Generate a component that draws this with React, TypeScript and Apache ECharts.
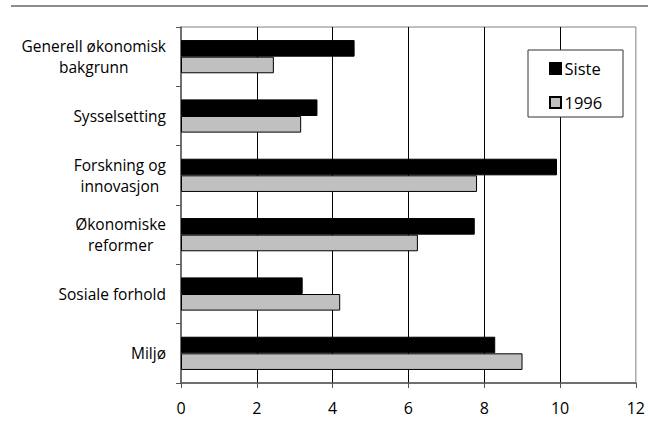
import React, { useEffect, useRef } from "react";
import * as echarts from "echarts";

const categories = [
  "Generell økonomisk\nbakgrunn",
  "Sysselsetting",
  "Forskning og\ninnovasjon",
  "Økonomiske\nreformer",
  "Sosiale forhold",
  "Miljø",
];
const sisteValues = [4.58, 3.6, 9.92, 7.75, 3.21, 8.29];
const values1996 = [2.45, 3.17, 7.81, 6.25, 4.2, 9.01];
const seriesNames = ["Siste", "1996"];
const xTicks = [0, 2, 4, 6, 8, 10, 12];

const FONT = "'Open Sans', 'Noto Sans', sans-serif";

export default function App() {
  const ref = useRef<HTMLDivElement>(null);
  useEffect(() => {
    if (!ref.current) return;
    const chart = echarts.init(ref.current, null, { renderer: "svg" });
    chart.setOption({
      animation: false,
      backgroundColor: "#fff",
      textStyle: { fontFamily: FONT },
      graphic: [
        {
          type: "line",
          shape: { x1: 11, y1: 6, x2: 648, y2: 6 },
          style: { stroke: "#666", lineWidth: 1.5 },
        },
        {
          type: "rect",
          z: 3,
          shape: { x: 528, y: 50, width: 95, height: 67 },
          style: { fill: "#fff", stroke: "#333", lineWidth: 1 },
        },
      ],
      legend: {
        orient: "vertical",
        left: 529,
        top: 52,
        z: 5,
        padding: [8, 10, 8, 20],
        itemGap: 17,
        itemWidth: 11,
        itemHeight: 11,
        icon: "rect",
        data: seriesNames,
        textStyle: {
          fontSize: 16.5,
          color: "#000",
          fontFamily: FONT,
          lineHeight: 16,
          padding: [0, 0, 0, -1.5],
        },
      },
      grid: {
        left: 181,
        right: 12,
        top: 27,
        bottom: 40,
        show: true,
        borderColor: "#808080",
        borderWidth: 1,
        backgroundColor: "transparent",
      },
      xAxis: {
        type: "value",
        min: xTicks[0],
        max: xTicks[xTicks.length - 1],
        interval: 2,
        axisLine: { show: true, lineStyle: { color: "#555", width: 1.5 } },
        axisTick: { show: true, length: 5, lineStyle: { color: "#555" } },
        axisLabel: { fontSize: 16, color: "#000", margin: 17, fontFamily: FONT },
        splitLine: {
          show: true,
          showMinLine: false,
          showMaxLine: false,
          lineStyle: { color: "#000", width: 1 },
        },
      },
      yAxis: {
        type: "category",
        inverse: true,
        data: categories,
        axisLine: { show: true, lineStyle: { color: "#555", width: 1.5 } },
        axisTick: { show: true, length: 5, lineStyle: { color: "#555" } },
        axisLabel: {
          fontSize: 15.5,
          color: "#000",
          margin: 15,
          fontFamily: FONT,
          lineHeight: 21.2,
          formatter: (v: string) =>
            v
              .split("\n")
              .map((s) => `{c|${s}}`)
              .join("\n"),
          rich: {
            c: { align: "center", fontSize: 15.5, lineHeight: 21.2, color: "#000", fontFamily: FONT },
          },
        },
        splitLine: { show: false },
      },
      series: [
        {
          name: seriesNames[0],
          type: "bar",
          data: sisteValues,
          barGap: "0%",
          barCategoryGap: "44%",
          itemStyle: { color: "#000", borderColor: "#000", borderWidth: 1 },
        },
        {
          name: seriesNames[1],
          type: "bar",
          data: values1996,
          barGap: "0%",
          barCategoryGap: "44%",
          itemStyle: { color: "#c0c0c0", borderColor: "#000", borderWidth: 1 },
        },
      ],
    });
    return () => chart.dispose();
  }, []);
  return (
    <div
      ref={ref}
      style={{ position: "absolute", left: 0, top: 0, width: 648, height: 423 }}
    />
  );
}
